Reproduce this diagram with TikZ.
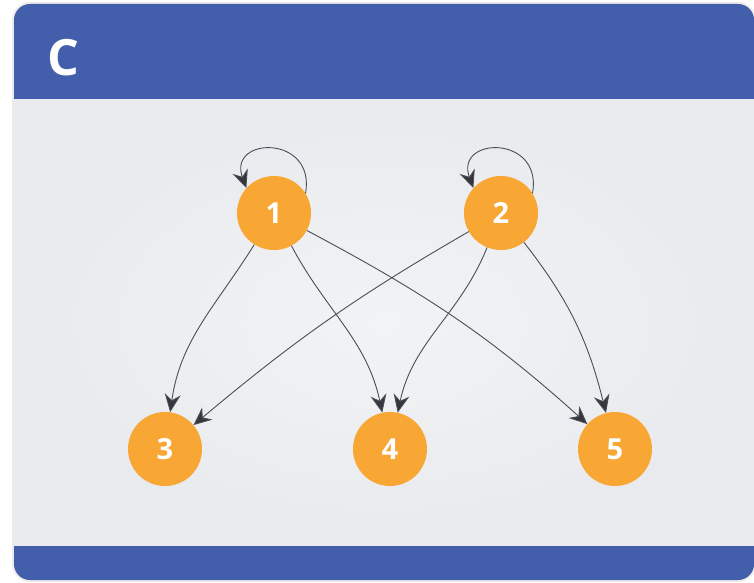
\documentclass[tikz,border=0pt]{standalone}
\usepackage{fontspec}
\setmainfont{Open Sans}
\usetikzlibrary{arrows.meta}
\definecolor{hdrblue}{HTML}{435EAB}
\definecolor{bodygray}{HTML}{E8EAED}
\definecolor{bodylight}{HTML}{F2F3F5}
\definecolor{nodeorange}{HTML}{F8A634}
\definecolor{edgegray}{HTML}{4A4D55}
\definecolor{tipgray}{HTML}{34363C}
\tikzset{
  vtx/.style={circle, fill=nodeorange, minimum size=74pt, inner sep=0pt, text=white, font=\fontsize{29}{32}\selectfont\bfseries},
  edge/.style={draw=edgegray, line width=0.9pt, -{Stealth[length=18pt,width=16pt,inset=6pt,fill=tipgray]}},
}
\begin{document}
\begin{tikzpicture}[x=1pt,y=1pt]
\useasboundingbox (0,0) rectangle (754,582);
% shadow
\fill[black!8, rounded corners=18pt] (12,0) rectangle (756,580);
% header + footer frame
\fill[hdrblue, rounded corners=16pt] (14,2) rectangle (754,578);
% body
\shade[inner color=bodylight, outer color=bodygray] (14,37) rectangle (754,482);
\node[text=white, font=\fontsize{50}{52}\selectfont\bfseries, anchor=west] (title) at (44,524) {C};
\node[vtx] (n1) at (274,369) {1};
\node[vtx] (n2) at (501,369) {2};
\node[vtx] (n3) at (165,133) {3};
\node[vtx] (n4) at (390,133) {4};
\node[vtx] (n5) at (615,133) {5};
\draw[edge] (n1) to[out=-122,in=82] (n3);
\draw[edge] (n1) to[out=-62,in=102] (n4);
\draw[edge] (n1) to[out=-28,in=138] (n5);
\draw[edge] (n2) to[out=-150,in=40] (n3);
\draw[edge] (n2) to[out=-112,in=78] (n4);
\draw[edge] (n2) to[out=-52,in=104] (n5);
\draw[edge] (n1.32) .. controls +(80:60) and +(110:55) .. (n1.138);
\draw[edge] (n2.32) .. controls +(80:60) and +(110:55) .. (n2.138);
\end{tikzpicture}
\end{document}
